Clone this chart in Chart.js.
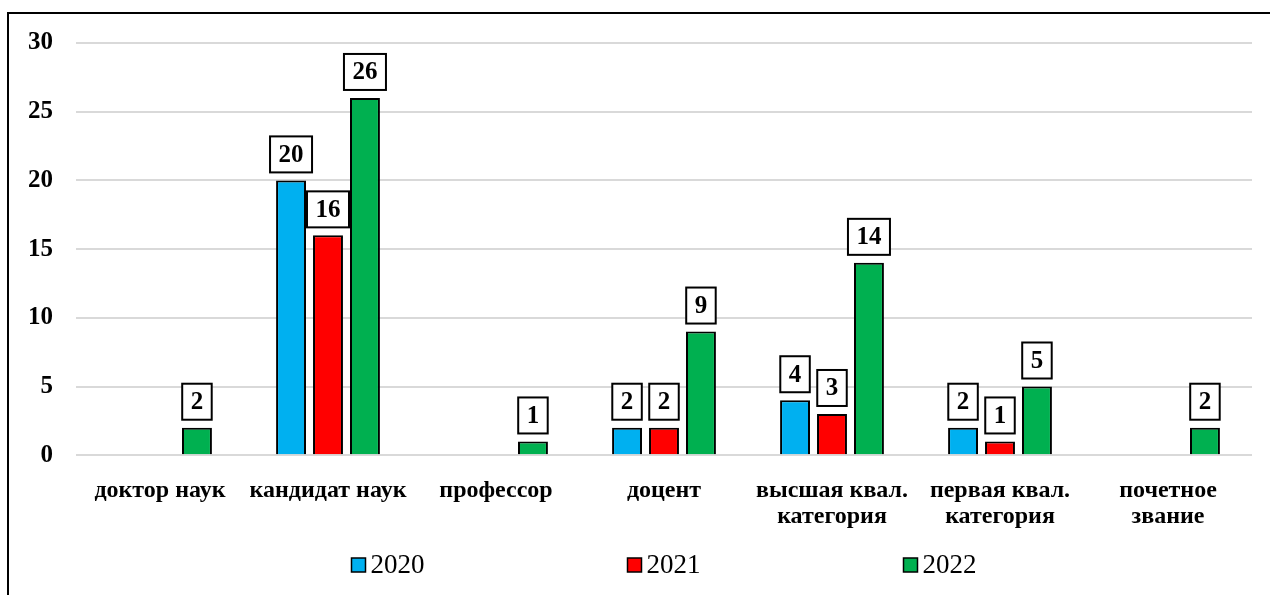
<!DOCTYPE html>
<html lang="ru">
<head>
<meta charset="utf-8">
<title>Chart</title>
<script src="https://cdn.jsdelivr.net/npm/chart.js@4"></script>
<style>
  html, body { margin: 0; padding: 0; background: #fff; overflow: hidden; }
  #chart { display: block; }
</style>
</head>
<body>
<canvas id="chart" width="1270" height="595"></canvas>
<script>
'use strict';

// ── Data ─────────────────────────────────────────────────────────────────────

const categories = [
  'доктор наук',
  'кандидат наук',
  'профессор',
  'доцент',
  ['высшая квал.', 'категория'],
  ['первая квал.', 'категория'],
  ['почетное', 'звание']
];
const years   = ['2020', '2021', '2022'];
const val2020 = [null, 20, null, 2, 4, 2, null];
const val2021 = [null, 16, null, 2, 3, 1, null];
const val2022 = [2, 26, 1, 9, 14, 5, 2];
const yTicks  = { min: 0, max: 30, step: 5 };

const colors = ['#00b0f0', '#ff0000', '#00b050'];
const SERIF  = "'Liberation Serif', 'Times New Roman', serif";

// ── Plugins ──────────────────────────────────────────────────────────────────

// black frame around the whole picture (only top and left sides are visible)
const framePlugin = {
  id: 'frame',
  beforeDraw(chart) {
    const ctx = chart.ctx;
    ctx.save();
    ctx.fillStyle = '#fff';
    ctx.fillRect(0, 0, chart.width, chart.height);
    ctx.strokeStyle = '#000';
    ctx.lineWidth = 2;
    ctx.beginPath();
    ctx.moveTo(8, chart.height);
    ctx.lineTo(8, 13);
    ctx.lineTo(chart.width, 13);
    ctx.stroke();
    ctx.restore();
  }
};

// boxed value labels above each bar
const boxLabels = {
  id: 'boxLabels',
  afterDatasetsDraw(chart) {
    const ctx = chart.ctx;
    ctx.save();
    ctx.font = `bold 25px ${SERIF}`;
    ctx.textAlign = 'center';
    ctx.textBaseline = 'middle';
    chart.data.datasets.forEach((ds, i) => {
      chart.getDatasetMeta(i).data.forEach((bar, j) => {
        const v = ds.data[j];
        if (v === null || v === undefined) return;
        const txt = String(v);
        const w = ctx.measureText(txt).width + 17;
        const h = 36;
        const x = bar.x - w / 2;
        const y = bar.y - 8 - h;
        ctx.fillStyle = '#fff';
        ctx.fillRect(x, y, w, h);
        ctx.strokeStyle = '#000';
        ctx.lineWidth = 2;
        ctx.strokeRect(x, y, w, h);
        ctx.fillStyle = '#000';
        ctx.fillText(txt, bar.x, y + h / 2 + 1);
      });
    });
    ctx.restore();
  }
};

// wide-spaced legend at the bottom, Excel style
const wideLegend = {
  id: 'wideLegend',
  afterDraw(chart) {
    const ctx = chart.ctx;
    const gap = 276, box = 14, cy = 565;
    ctx.save();
    ctx.font = `27px ${SERIF}`;
    ctx.textBaseline = 'middle';
    const items = chart.data.datasets.map(ds => ({
      label: ds.label, color: ds.backgroundColor,
      w: box + 5 + ctx.measureText(ds.label).width
    }));
    const total = gap * (items.length - 1) + items[items.length - 1].w;
    const mid = (chart.chartArea.left + chart.chartArea.right) / 2;
    let x = mid - total / 2;
    items.forEach(it => {
      ctx.fillStyle = it.color;
      ctx.fillRect(x, cy - box / 2, box, box);
      ctx.strokeStyle = '#000';
      ctx.lineWidth = 1.5;
      ctx.strokeRect(x, cy - box / 2, box, box);
      ctx.fillStyle = '#000';
      ctx.fillText(it.label, x + box + 5, cy + 1);
      x += gap;
    });
    ctx.restore();
  }
};

// ── Chart ────────────────────────────────────────────────────────────────────

const series = [val2020, val2021, val2022];
const datasets = series.map((data, i) => ({
  label: years[i],
  data,
  backgroundColor: colors[i],
  borderColor: '#000',
  borderWidth: 2,
  categoryPercentage: 0.66,
  barPercentage: 0.81
}));

new Chart(document.getElementById('chart'), {
  type: 'bar',
  data: { labels: categories, datasets },
  plugins: [framePlugin, boxLabels, wideLegend],
  options: {
    responsive: false,
    animation: false,
    devicePixelRatio: 1,
    layout: { padding: { top: 43, left: 5, right: 18, bottom: 51 } },
    plugins: {
      legend: { display: false },
      tooltip: { enabled: false }
    },
    scales: {
      x: {
        grid: { display: false },
        border: { display: false },
        ticks: {
          color: '#000',
          padding: 14,
          maxRotation: 0,
          autoSkip: false,
          font: { family: SERIF, size: 24, weight: 'bold', lineHeight: 1.1 }
        }
      },
      y: {
        min: yTicks.min,
        max: yTicks.max,
        border: { display: false },
        grid: { color: '#d9d9d9', lineWidth: 2, drawTicks: false },
        ticks: {
          stepSize: yTicks.step,
          color: '#000',
          padding: 23,
          font: { family: SERIF, size: 25, weight: 'bold' }
        }
      }
    }
  }
});
</script>
</body>
</html>
